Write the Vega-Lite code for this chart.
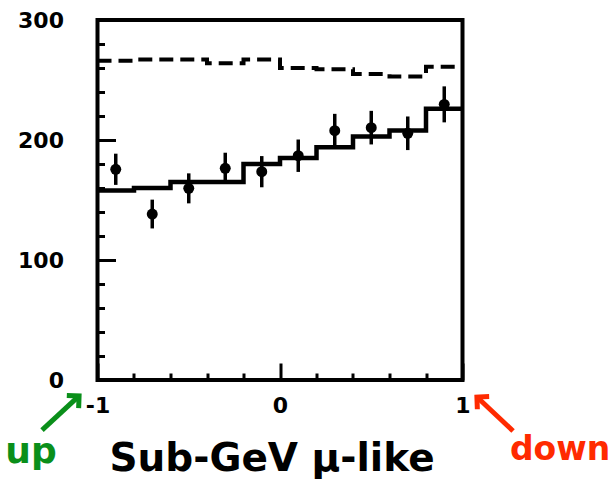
{
  "$schema": "https://vega.github.io/schema/vega-lite/v6.json",
  "width": 365,
  "height": 360,
  "autosize": {"type": "none"},
  "padding": {"left": 97.5, "top": 20, "right": 153.5, "bottom": 99},
  "background": "white",
  "config": {
    "view": {"stroke": "black", "strokeWidth": 4},
    "axis": {"domain": false, "grid": false, "tickColor": "black", "tickWidth": 3, "labelColor": "black", "labelFont": "DejaVu Sans", "labelFontWeight": "bold", "labelFontSize": 22, "labelOverlap": false, "tickCount": 100}
  },
  "datasets": {
    "hist": [
      {"cosz": -1.0, "mc": 158, "noosc": 266},
      {"cosz": -0.8, "mc": 160, "noosc": 267},
      {"cosz": -0.6, "mc": 165, "noosc": 267},
      {"cosz": -0.4, "mc": 165, "noosc": 264},
      {"cosz": -0.2, "mc": 180, "noosc": 267},
      {"cosz": 0.0, "mc": 185, "noosc": 260},
      {"cosz": 0.2, "mc": 194, "noosc": 259},
      {"cosz": 0.4, "mc": 203, "noosc": 255},
      {"cosz": 0.6, "mc": 208, "noosc": 253},
      {"cosz": 0.8, "mc": 226, "noosc": 261},
      {"cosz": 1.0, "mc": 226, "noosc": 261}
    ],
    "obs": [
      {"cosz": -0.9, "events": 175.6, "err": 13},
      {"cosz": -0.7, "events": 138.3, "err": 12},
      {"cosz": -0.5, "events": 159.7, "err": 12.5},
      {"cosz": -0.3, "events": 176.4, "err": 13},
      {"cosz": -0.1, "events": 173.6, "err": 13},
      {"cosz": 0.1, "events": 186.9, "err": 13.5},
      {"cosz": 0.3, "events": 207.8, "err": 14},
      {"cosz": 0.5, "events": 210.3, "err": 14},
      {"cosz": 0.7, "events": 205.6, "err": 14},
      {"cosz": 0.9, "events": 229.7, "err": 15}
    ],
    "one": [{}]
  },
  "layer": [
    {
      "data": {"name": "hist"},
      "mark": {"type": "line", "interpolate": "step-after", "color": "black", "strokeWidth": 4, "strokeDash": [14, 7]},
      "encoding": {
        "x": {"field": "cosz", "type": "quantitative", "scale": {"domain": [-1, 1], "nice": false, "zero": false},
          "axis": {"title": "Sub-GeV μ-like", "titleFont": "DejaVu Sans", "titleFontWeight": "bold", "titleFontSize": 39, "titleColor": "black", "titleX": 174, "titleY": 90, "titleAlign": "center", "titleBaseline": "alphabetic",
            "values": [-1, -0.8, -0.6, -0.4, -0.2, 0, 0.2, 0.4, 0.6, 0.8, 1],
            "labelExpr": "datum.value === -1 ? '-1' : datum.value === 0 ? '0' : datum.value === 1 ? '1' : ''",
            "tickSize": {"condition": {"test": "datum.value === 0 || datum.value === 1 || datum.value === -1", "value": -17}, "value": -7},
            "labelPadding": 32, "labelFlush": false}},
        "y": {"field": "noosc", "type": "quantitative", "scale": {"domain": [0, 300], "nice": false},
          "axis": {"title": null,
            "values": [0, 20, 40, 60, 80, 100, 120, 140, 160, 180, 200, 220, 240, 260, 280, 300],
            "labelExpr": "datum.value % 100 === 0 ? datum.label : ''",
            "tickSize": {"condition": {"test": "datum.value % 100 === 0", "value": -18}, "value": -7},
            "labelPadding": 52, "labelFlush": false}}
      }
    },
    {
      "data": {"name": "hist"},
      "mark": {"type": "line", "interpolate": "step-after", "color": "black", "strokeWidth": 4.5},
      "encoding": {
        "x": {"field": "cosz", "type": "quantitative", "scale": {"domain": [-1, 1], "nice": false, "zero": false}},
        "y": {"field": "mc", "type": "quantitative", "scale": {"domain": [0, 300], "nice": false}}
      }
    },
    {
      "data": {"name": "obs"},
      "mark": {"type": "errorbar", "color": "black", "thickness": 3.5},
      "encoding": {
        "x": {"field": "cosz", "type": "quantitative", "scale": {"domain": [-1, 1], "nice": false, "zero": false}},
        "y": {"field": "events", "type": "quantitative", "scale": {"domain": [0, 300], "nice": false}},
        "yError": {"field": "err"}
      }
    },
    {
      "data": {"name": "obs"},
      "mark": {"type": "point", "filled": true, "color": "black", "size": 120, "opacity": 1},
      "encoding": {
        "x": {"field": "cosz", "type": "quantitative", "scale": {"domain": [-1, 1], "nice": false, "zero": false}},
        "y": {"field": "events", "type": "quantitative", "scale": {"domain": [0, 300], "nice": false}}
      }
    },
    {
      "data": {"name": "one"},
      "mark": {"type": "rule", "color": "#0a8f1a", "strokeWidth": 5},
      "encoding": {
        "x": {"datum": -1.304, "type": "quantitative", "scale": {"domain": [-1, 1], "nice": false, "zero": false}},
        "y": {"datum": -41.7, "type": "quantitative", "scale": {"domain": [0, 300], "nice": false}},
        "x2": {"datum": -1.101},
        "y2": {"datum": -13.3}
      }
    },
    {
      "data": {"name": "one"},
      "mark": {"type": "point", "shape": "M -1 1 L 0 0 L 1 1", "filled": false, "color": "#0a8f1a", "strokeWidth": 5, "size": 300, "angle": 47, "opacity": 1},
      "encoding": {
        "x": {"datum": -1.101, "type": "quantitative", "scale": {"domain": [-1, 1], "nice": false, "zero": false}},
        "y": {"datum": -13.3, "type": "quantitative", "scale": {"domain": [0, 300], "nice": false}}
      }
    },
    {
      "data": {"name": "one"},
      "mark": {"type": "rule", "color": "#ff2a00", "strokeWidth": 5},
      "encoding": {
        "x": {"datum": 1.277, "type": "quantitative", "scale": {"domain": [-1, 1], "nice": false, "zero": false}},
        "y": {"datum": -42.5, "type": "quantitative", "scale": {"domain": [0, 300], "nice": false}},
        "x2": {"datum": 1.079},
        "y2": {"datum": -14.2}
      }
    },
    {
      "data": {"name": "one"},
      "mark": {"type": "point", "shape": "M -1 1 L 0 0 L 1 1", "filled": false, "color": "#ff2a00", "strokeWidth": 5, "size": 300, "angle": 313, "opacity": 1},
      "encoding": {
        "x": {"datum": 1.079, "type": "quantitative", "scale": {"domain": [-1, 1], "nice": false, "zero": false}},
        "y": {"datum": -14.2, "type": "quantitative", "scale": {"domain": [0, 300], "nice": false}}
      }
    },
    {
      "data": {"name": "one"},
      "mark": {"type": "text", "text": "up", "font": "DejaVu Sans", "fontWeight": "bold", "fontSize": 36, "color": "#0a8f1a", "align": "center", "baseline": "alphabetic"},
      "encoding": {
        "x": {"datum": -1.364, "type": "quantitative", "scale": {"domain": [-1, 1], "nice": false, "zero": false}},
        "y": {"datum": -69.2, "type": "quantitative", "scale": {"domain": [0, 300], "nice": false}}
      }
    },
    {
      "data": {"name": "one"},
      "mark": {"type": "text", "text": "down", "font": "DejaVu Sans", "fontWeight": "bold", "fontSize": 33, "color": "#ff2a00", "align": "left", "baseline": "alphabetic"},
      "encoding": {
        "x": {"datum": 1.26, "type": "quantitative", "scale": {"domain": [-1, 1], "nice": false, "zero": false}},
        "y": {"datum": -66.7, "type": "quantitative", "scale": {"domain": [0, 300], "nice": false}}
      }
    }
  ]
}
